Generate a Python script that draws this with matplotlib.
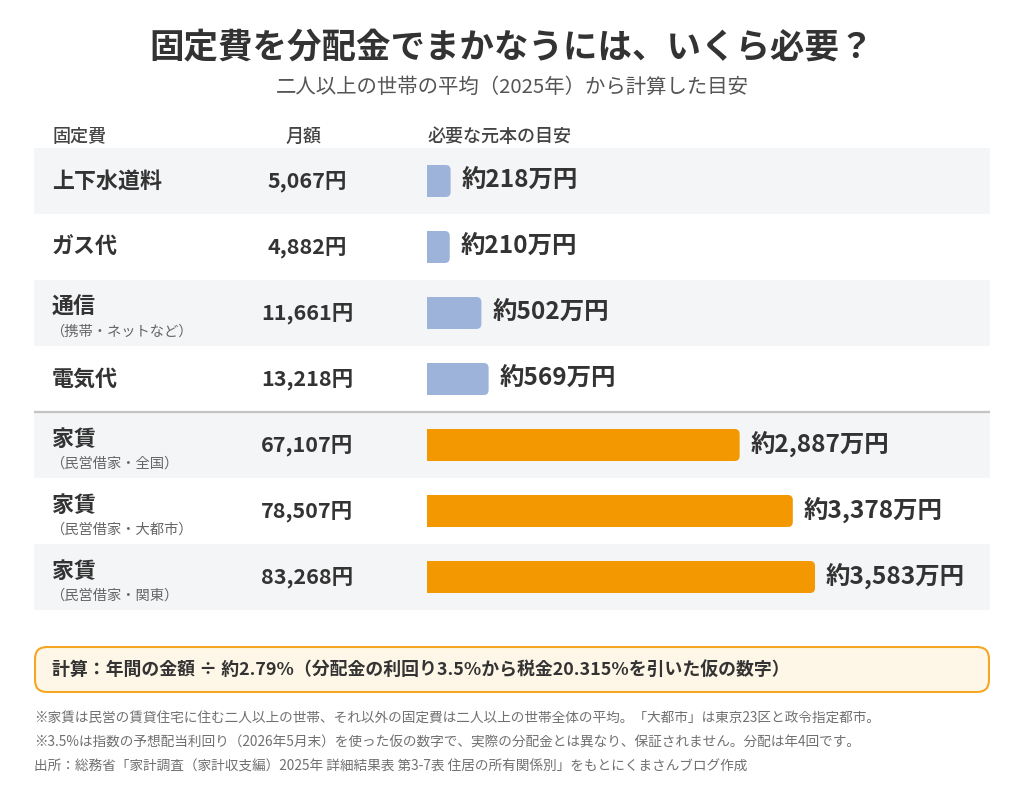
import matplotlib
matplotlib.use("Agg")
import matplotlib.pyplot as plt
from matplotlib.patches import FancyBboxPatch, Rectangle

plt.rcParams['font.family'] = ['Noto Sans CJK JP', 'DejaVu Sans']

# data
names = ["上下水道料", "ガス代", "通信", "電気代", "家賃", "家賃", "家賃"]
subnames = ["", "", "（携帯・ネットなど）", "", "（民営借家・全国）", "（民営借家・大都市）", "（民営借家・関東）"]
monthly = [5067, 4882, 11661, 13218, 67107, 78507, 83268]
principal = [218, 210, 502, 569, 2887, 3378, 3583]   # 万円
kind = ["util", "util", "util", "util", "rent", "rent", "rent"]

title = "固定費を分配金でまかなうには、いくら必要？"
subtitle = "二人以上の世帯の平均（2025年）から計算した目安"
headers = ["固定費", "月額", "必要な元本の目安"]
formula = "計算：年間の金額 ÷ 約2.79%（分配金の利回り3.5%から税金20.315%を引いた仮の数字）"
notes = [
    "※家賃は民営の賃貸住宅に住む二人以上の世帯、それ以外の固定費は二人以上の世帯全体の平均。「大都市」は東京23区と政令指定都市。",
    "※3.5%は指数の予想配当利回り（2026年5月末）を使った仮の数字で、実際の分配金とは異なり、保証されません。分配は年4回です。",
    "出所：総務省「家計調査（家計収支編）2025年 詳細結果表 第3-7表 住居の所有関係別」をもとにくまさんブログ作成",
]

colors = {"util": "#9db3d9", "rent": "#f39800"}
dark = "#333333"

W, H = 1024, 799
fig = plt.figure(figsize=(W / 100, H / 100), dpi=100)
fig.patch.set_facecolor("white")


def fx(x):
    return x / W


def fy(y):
    return 1 - y / H


# title block
fig.text(fx(512), fy(48), title, ha="center", va="center", fontsize=24.8,
         fontweight="bold", color=dark)
fig.text(fx(512), fy(87), subtitle, ha="center", va="center", fontsize=14.7, color="#555555")

# table axes: x in 万円 with origin at bar start
left_px, right_px, top_px, bot_px = 34, 990, 148, 610
bar0_px = 427
px_per_unit = 388 / 3583
ax = fig.add_axes([fx(left_px), fy(bot_px), fx(right_px - left_px), (bot_px - top_px) / H])
ax.set_xlim(-(bar0_px - left_px) / px_per_unit, (right_px - bar0_px) / px_per_unit)
n = len(names)
ax.set_ylim(n - 0.5, -0.5)
ax.axis("off")

row_px = (bot_px - top_px) / n
for i in range(n):
    if i % 2 == 0:
        ax.axhspan(i - 0.5, i + 0.5, color="#f4f5f7", lw=0, zorder=0)
ax.axhline(3.5, color="#c4c4c4", lw=1.6, zorder=1)

# headers
hx = [52, 303, 428]
hkw = dict(va="center", fontsize=13, fontweight="medium", color="#444444")
fig.text(fx(hx[0]), fy(137), headers[0], ha="left", **hkw)
fig.text(fx(hx[1]), fy(137), headers[1], ha="center", **hkw)
fig.text(fx(hx[2]), fy(137), headers[2], ha="left", **hkw)

# bars
bh = 32 / row_px
bars = ax.barh(range(n), principal, height=bh, left=0,
               color=[colors[k] for k in kind], zorder=2)
r_units = 5 / px_per_unit
aspect = (1 / row_px) / (1 / px_per_unit)
for b in bars:
    x, y, w, h = b.get_x(), b.get_y(), b.get_width(), b.get_height()
    c = b.get_facecolor()
    b.set_visible(False)
    ax.add_patch(FancyBboxPatch((x, y), w, h, boxstyle=f"round,pad=0,rounding_size={r_units}",
                                mutation_aspect=aspect, fc=c, ec="none", zorder=2))
    ax.add_patch(Rectangle((x, y), min(w, 2 * r_units), h, fc=c, ec="none", zorder=2))

tx = ax.get_yaxis_transform()
name_x = (52 - left_px) / (right_px - left_px)
amt_x = (307 - left_px) / (right_px - left_px)
for i in range(n):
    if subnames[i]:
        ax.text(name_x, i - 6 / row_px, names[i], transform=tx, ha="left", va="center",
                fontsize=15.8, fontweight="bold", color=dark)
        ax.text(name_x - 0.002, i + 19 / row_px, subnames[i], transform=tx, ha="left", va="center",
                fontsize=10.3, color="#666666")
    else:
        ax.text(name_x, i, names[i], transform=tx, ha="left", va="center",
                fontsize=15.8, fontweight="bold", color=dark)
    ax.text(amt_x, i, f"{monthly[i]:,}円", transform=tx, ha="center", va="center",
            fontsize=15.5, fontweight="bold", color=dark)
    ax.text(principal[i] + 11 / px_per_unit, i, f"約{principal[i]:,}万円", ha="left", va="center",
            fontsize=17.6, fontweight="bold", color=dark)

# formula box
bx = fig.add_axes([fx(34), fy(693), fx(956), 47 / H])
bx.set_xlim(0, 956)
bx.set_ylim(0, 47)
bx.axis("off")
bx.add_patch(FancyBboxPatch((1, 1), 954, 45, boxstyle="round,pad=0,rounding_size=12",
                            fc="#fef7e7", ec="#f5a623", lw=1.5))
bx.text(18, 23.5, formula, ha="left", va="center", fontsize=12.9, fontweight="bold", color=dark)

# notes
for j, t in enumerate(notes):
    fig.text(fx(34), fy(718 + 24.5 * j), t, ha="left", va="center", fontsize=9.85, color="#707070")

fig.savefig("out.png", dpi=100, facecolor="white")
